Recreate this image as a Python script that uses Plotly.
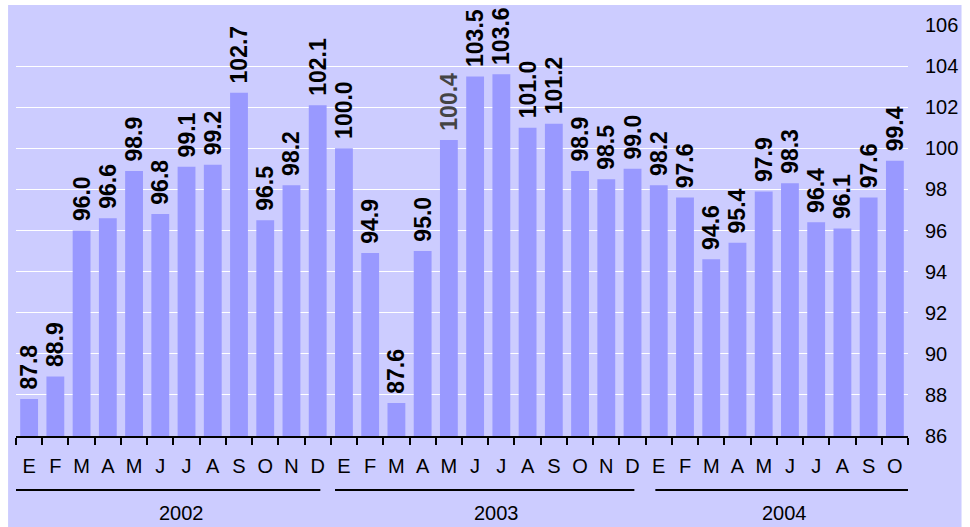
import plotly.graph_objects as go

years = ["2002", "2003", "2004"]
months = ["E", "F", "M", "A", "M", "J", "J", "A", "S", "O", "N", "D"]
values_2002 = [87.8, 88.9, 96.0, 96.6, 98.9, 96.8, 99.1, 99.2, 102.7, 96.5, 98.2, 102.1]
values_2003 = [100.0, 94.9, 87.6, 95.0, 100.4, 103.5, 103.6, 101.0, 101.2, 98.9, 98.5, 99.0]
values_2004 = [98.2, 97.6, 94.6, 95.4, 97.9, 98.3, 96.4, 96.1, 97.6, 99.4]
y_ticks = [86, 88, 90, 92, 94, 96, 98, 100, 102, 104, 106]

series = [values_2002, values_2003, values_2004]
cats, labels, vals, groups = [], [], [], []
for yr, vs in zip(years, series):
    start = len(vals)
    for m, v in zip(months, vs):
        cats.append(f"{yr}-{len(vals)}")
        labels.append(m)
        vals.append(v)
    groups.append((yr, start, len(vals) - 1))

text_colors = ["#000000"] * len(vals)
text_colors[12 + 4] = "#444444"

BG = "#CCCCFF"
BAR = "#9999FF"
FONT = "Liberation Sans, Arial, sans-serif"

fig = go.Figure()
fig.add_trace(go.Bar(
    x=cats, y=vals,
    marker=dict(color=BAR, line=dict(width=0)),
    text=["\u00a0" + f"{v:.1f}" for v in vals],
    textposition="outside",
    textangle=-90,
    constraintext="none",
    cliponaxis=False,
    textfont=dict(family=FONT, size=23, color=text_colors, weight="bold"),
    hoverinfo="skip",
))

shapes = [dict(type="rect", xref="paper", yref="paper",
               x0=-8 / 900, x1=954 / 900, y0=-91 / 411, y1=431 / 411,
               fillcolor=BG, line=dict(width=0), layer="below")]
annotations = []
spans = {"2002": (-0.65, 11.1), "2003": (11.66, 23.07), "2004": (23.87, 33.5)}
for yr, s, e in groups:
    x0, x1 = spans[yr]
    shapes.append(dict(type="line", xref="x", yref="paper", x0=x0, x1=x1,
                       y0=-54 / 411, y1=-54 / 411, line=dict(color="black", width=2)))
    annotations.append(dict(x=(s + e) / 2 + 0.3, y=-77 / 411, xref="x", yref="paper",
                            text=yr, showarrow=False, yanchor="middle",
                            font=dict(family=FONT, size=20, color="black")))

fig.update_layout(
    width=970, height=527,
    margin=dict(l=16, r=54, t=25, b=91),
    paper_bgcolor="white",
    plot_bgcolor=BG,
    showlegend=False,
    bargap=0.32,
    shapes=shapes,
    annotations=annotations,
    font=dict(family=FONT, size=20, color="black"),
    xaxis=dict(
        type="category",
        tickmode="array", tickvals=cats, ticktext=labels, tickangle=0,
        tickson="boundaries", ticks="outside", ticklen=7, tickwidth=2, tickcolor="black",
        showline=True, linecolor="black", linewidth=2,
        showgrid=False, ticklabelstandoff=11,
        tickfont=dict(family=FONT, size=20, color="black"),
        range=[-0.5, len(cats) - 0.5],
    ),
    yaxis=dict(
        side="right", range=[86, 106], tickvals=y_ticks,
        showgrid=True, gridcolor="white", gridwidth=1,
        zeroline=False, showline=False, ticks="",
        ticklabelstandoff=16,
        tickfont=dict(family=FONT, size=20, color="black"),
    ),
)

fig.write_html("out.html", config={"displayModeBar": False},
               post_script="document.body.style.margin='0';document.body.style.overflow='hidden';")
